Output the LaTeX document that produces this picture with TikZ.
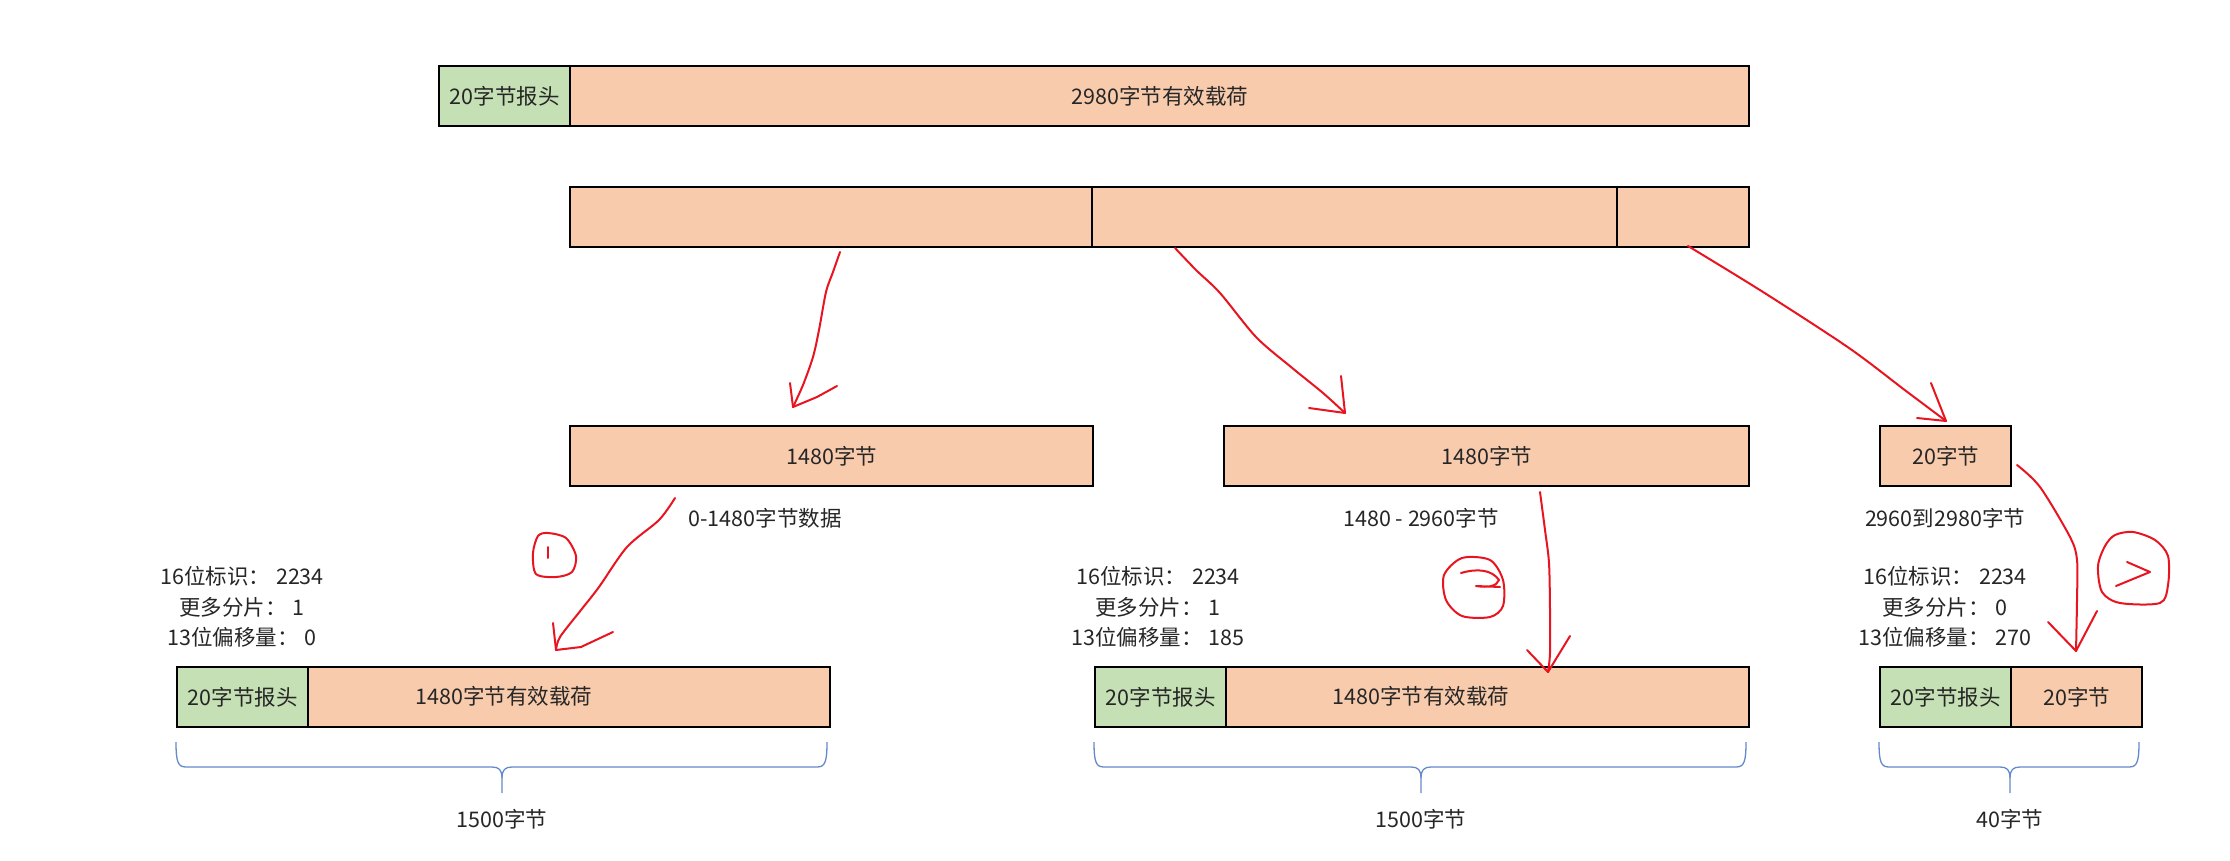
\documentclass[tikz,border=0pt]{standalone}
\usepackage{fontspec}
\setmainfont{Noto Sans CJK SC}
\definecolor{hdrgreen}{RGB}{197,224,180}
\definecolor{paysalmon}{RGB}{248,203,173}
\definecolor{penred}{RGB}{232,20,32}
\definecolor{braceblue}{RGB}{100,138,204}
\newcommand\myfs{\fontsize{21.5}{30.5}\selectfont}
\newcommand\mycolon{：\hspace{6pt}}
\newcommand\mybrace[3]{% x1, x2, center
  \draw[brace] (#1,742) .. controls (#1,762) and ({#1+2},767) .. ({#1+10},767) -- ({#3-10},767) .. controls ({#3-3},767) and (#3,770) .. (#3,778) -- (#3,793);
  \draw[brace] (#2,742) .. controls (#2,762) and ({#2-2},767) .. ({#2-10},767) -- ({#3+10},767) .. controls ({#3+3},767) and (#3,770) .. (#3,778);
}
\begin{document}
\begin{tikzpicture}[x=1pt,y=-1pt,
  box/.style={draw=black,line width=2.4pt,inner sep=0pt,anchor=north west,minimum height=60pt,font=\myfs,text=black!85},
  hdr/.style={box,fill=hdrgreen},
  pay/.style={box,fill=paysalmon},
  txt/.style={inner sep=0pt,font=\myfs,text=black!85},
  info/.style={txt,align=center},
  pen/.style={draw=penred,line width=2pt,line cap=round,line join=round},
  brace/.style={draw=braceblue,line width=1.3pt}
]
\useasboundingbox[fill=white] (0,0) rectangle (2230,861);

% top row
\node[hdr,minimum width=131pt] (h0) at (438,65) {20字节报头};
\node[pay,minimum width=1179pt] (p0) at (569,65) {2980字节有效载荷};

% second row (split payload)
\node[pay,minimum width=1179pt] (r2) at (569,186) {};
\coordinate (d1t) at (1092,186); \coordinate (d1b) at (1092,246);
\coordinate (d2t) at (1617,186); \coordinate (d2b) at (1617,246);
\draw[line width=1.6pt] (d1t) -- (d1b);
\draw[line width=1.6pt] (d2t) -- (d2b);

% third row
\node[pay,minimum width=523pt] (b1) at (569,425) {1480字节};
\node[pay,minimum width=525pt] (b2) at (1223,425) {1480字节};
\node[pay,minimum width=131pt] (b3) at (1879,425) {20字节};

\node[txt] (l1) at (765,518) {0-1480字节数据};
\node[txt] (l2) at (1421,518) {1480 - 2960字节};
\node[txt] (l3) at (1945,518) {2960到2980字节};

% info
\node[info] (i1) at (242,607) {16位标识\mycolon 2234\\更多分片\mycolon 1\\13位偏移量\mycolon 0};
\node[info] (i2) at (1158,607) {16位标识\mycolon 2234\\更多分片\mycolon 1\\13位偏移量\mycolon 185};
\node[info] (i3) at (1945,607) {16位标识\mycolon 2234\\更多分片\mycolon 0\\13位偏移量\mycolon 270};

% bottom row
\node[hdr,minimum width=131pt] (g1) at (176,666) {20字节报头};
\node[pay,minimum width=522pt] (q1) at (307,666) {};
\node[txt] (t1) at (504,696) {1480字节有效载荷};
\node[hdr,minimum width=131pt] (g2) at (1094,666) {20字节报头};
\node[pay,minimum width=523pt] (q2) at (1225,666) {};
\node[txt] (t2) at (1421,696) {1480字节有效载荷};
\node[hdr,minimum width=131pt] (g3) at (1879,666) {20字节报头};
\node[pay,minimum width=131pt] (q3) at (2010,666) {20字节};

% braces
\mybrace{176}{827}{502}
\mybrace{1094}{1746}{1421}
\mybrace{1879}{2139}{2010}
\node[txt] (s1) at (502,819) {1500字节};
\node[txt] (s2) at (1421,819) {1500字节};
\node[txt] (s3) at (2010,819) {40字节};

% red hand-drawn arrows, second row to third row
\coordinate (a1s) at (840,252); \coordinate (a1e) at (793,407);
\draw[pen] plot[smooth] coordinates {(a1s) (833,272) (826,292) (819,330) (813,357) (803,385) (a1e)};
\draw[pen] (790,383) -- (a1e) -- (817,397) -- (837,386);
\coordinate (a2s) at (1175,248); \coordinate (a2e) at (1345,413);
\draw[pen] plot[smooth] coordinates {(a2s) (1196,270) (1220,293) (1256,337) (1291,367) (1323,393) (a2e)};
\draw[pen] (1341,376) -- (a2e) -- (1309,408);
\coordinate (a3s) at (1688,246); \coordinate (a3e) at (1946,421);
\draw[pen] plot[smooth] coordinates {(a3s) (1763,292) (1849,348) (1906,391) (a3e)};
\draw[pen] (1931,383) -- (a3e) -- (1917,418);

% red arrows, third row to bottom row
\coordinate (c1s) at (675,498); \coordinate (c1e) at (556,650);
\draw[pen] plot[smooth] coordinates {(c1s) (659,520) (627,547) (599,587) (581,610) (560,637) (c1e)};
\draw[pen] (553,623) -- (c1e) -- (581,647) -- (613,632);
\draw[pen] plot[smooth cycle] coordinates {(548,533) (566,538) (576,556) (572,572) (556,577) (536,574) (533,553) (538,536)};
\draw[pen] (548,547) -- (548,558);

\coordinate (c2s) at (1540,492); \coordinate (c2e) at (1548,672);
\draw[pen] plot[smooth] coordinates {(c2s) (1545,530) (1549,563) (1550,610) (1550,653) (c2e)};
\draw[pen] (1527,650) -- (c2e) -- (1570,636);
\draw[pen] plot[smooth cycle] coordinates {(1462,558) (1490,560) (1503,580) (1503,606) (1490,617) (1462,616) (1446,600) (1444,575)};
\draw[pen] (1461,573) .. controls (1478,568) and (1492,570) .. (1499,580) .. controls (1497,586) and (1488,588) .. (1476,586) -- (1500,587);

\coordinate (c3s) at (2017,465); \coordinate (c3e) at (2076,651);
\draw[pen] plot[smooth] coordinates {(c3s) (2040,487) (2070,537) (2077,560) (2077,600) (c3e)};
\draw[pen] (2048,622) -- (c3e) -- (2097,611);
\draw[pen] plot[smooth cycle] coordinates {(2115,535) (2133,532) (2155,540) (2168,556) (2168,585) (2160,603) (2120,603) (2102,592) (2098,566) (2105,546)};
\draw[pen] (2127,562) -- (2150,572) -- (2116,586);
\end{tikzpicture}
\end{document}
